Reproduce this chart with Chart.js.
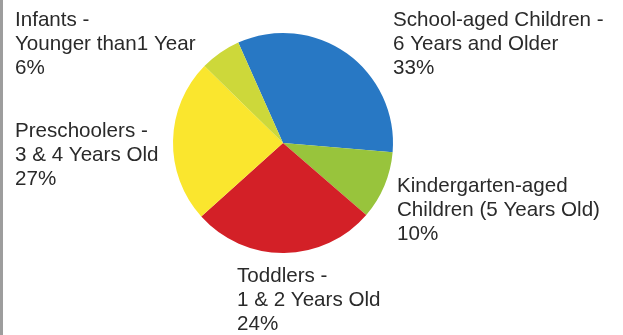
<!DOCTYPE html>
<html>
<head>
<meta charset="utf-8">
<script src="https://cdn.jsdelivr.net/npm/chart.js@4.4.0/dist/chart.umd.min.js"></script>
<style>
  html, body { margin: 0; padding: 0; background: #fff; }
  #wrap { position: relative; width: 623px; height: 335px; }
  #edge { position: absolute; left: 0; top: 0; width: 3px; height: 335px; background: #9d9d9d; }
</style>
</head>
<body>
<div id="wrap">
  <canvas id="pieChart" width="623" height="335"></canvas>
  <div id="edge"></div>
</div>
<script>
// --- Data (clockwise from the blue slice) ---
const categories = [
  "School-aged Children - 6 Years and Older",
  "Kindergarten-aged Children (5 Years Old)",
  "Toddlers - 1 & 2 Years Old",
  "Preschoolers - 3 & 4 Years Old",
  "Infants - Younger than1 Year"
];
// slice sizes as drawn in the picture (red slice is drawn larger than yellow)
const sliceValues = [33, 10, 27, 24, 6];
// percentages as printed on the labels
const printedPercents = ["33%", "10%", "24%", "27%", "6%"];
const labelLines = [
  ["School-aged Children -", "6 Years and Older"],
  ["Kindergarten-aged", "Children (5 Years Old)"],
  ["Toddlers -", "1 & 2 Years Old"],
  ["Preschoolers -", "3 & 4 Years Old"],
  ["Infants -", "Younger than1 Year"]
];
const sliceColors = ["#2878c4", "#98c43c", "#d32027", "#fae62e", "#cdd83a"];

// where each label block starts (x, first baseline)
const labelAnchors = [[393, 26], [397, 192], [237, 282], [15, 137], [15, 26]];

const labelPlugin = {
  id: "sliceLabels",
  afterDraw(chart) {
    const ctx = chart.ctx;
    ctx.save();
    ctx.font = "20.6px 'Liberation Sans', Arial, sans-serif";
    ctx.fillStyle = "#2a2a2a";
    ctx.textBaseline = "alphabetic";
    ctx.textAlign = "left";
    categories.forEach((c, i) => {
      const lines = labelLines[i].concat([printedPercents[i]]);
      const [x, y] = labelAnchors[i];
      lines.forEach((t, j) => ctx.fillText(t, x, y + j * 24));
    });
    ctx.restore();
  }
};

const ctx = document.getElementById("pieChart").getContext("2d");
new Chart(ctx, {
  type: "pie",
  data: {
    labels: categories,
    datasets: [{
      data: sliceValues,
      backgroundColor: sliceColors,
      borderWidth: 0
    }]
  },
  options: {
    responsive: false,
    animation: false,
    rotation: -24,
    layout: { padding: { top: 33, bottom: 82, left: 173, right: 230 } },
    plugins: {
      legend: { display: false },
      tooltip: { enabled: false }
    }
  },
  plugins: [labelPlugin]
});
</script>
</body>
</html>
